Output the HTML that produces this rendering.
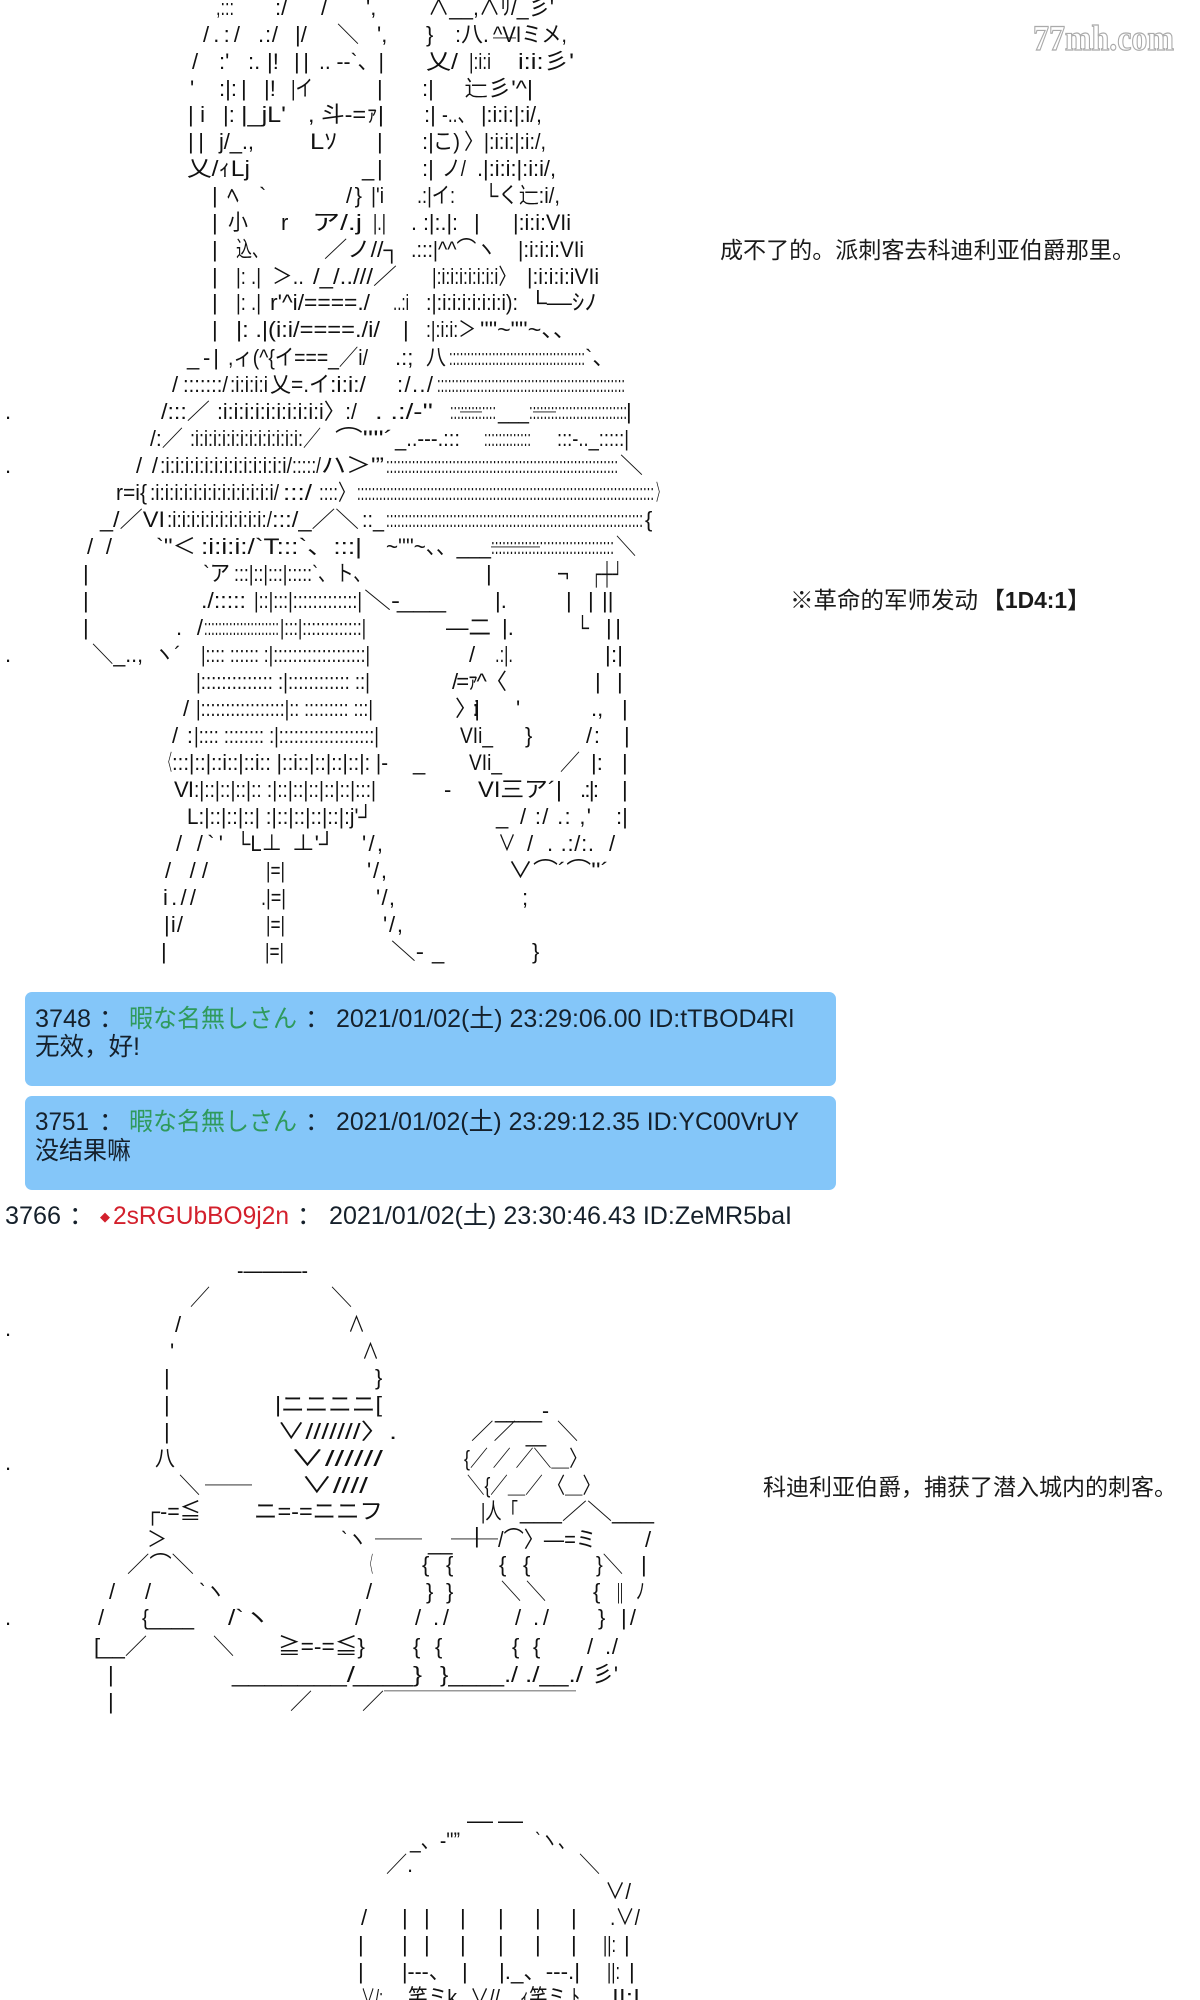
<!DOCTYPE html>
<html lang="zh"><head><meta charset="utf-8"><title>AA</title>
<style>
html,body{margin:0;padding:0;background:#fff;width:1200px;height:2000px;overflow:hidden}
svg{display:block}
text{font-family:"Liberation Sans","Noto Sans CJK JP",sans-serif;font-size:22px;fill:#111;white-space:pre}
.z{font-family:"Liberation Sans","Noto Sans CJK SC",sans-serif;font-size:25px;fill:#15202b}
.g{fill:#2f9a5c}.r{fill:#d3202c}
.t{font-family:"Liberation Sans","Noto Sans CJK SC",sans-serif;font-size:23px;fill:#1a1a1a}
.b{font-weight:bold}
.w{font-family:"Liberation Serif",serif;font-weight:bold;font-size:36px;fill:#fff;stroke:#aaa;stroke-width:1.2}
</style></head><body>
<svg xmlns="http://www.w3.org/2000/svg" width="1200" height="2000" viewBox="0 0 1200 2000">
<rect width="1200" height="2000" fill="#fff"/>
<text class="w" x="1033" y="50" textLength="141" lengthAdjust="spacingAndGlyphs">77mh.com</text>

<g transform="translate(0,15)"><text x="216" textLength="18" lengthAdjust="spacingAndGlyphs">,:::</text><text x="275">:/</text><text x="321">/</text><text x="366">',</text><text x="428" textLength="126" lengthAdjust="spacingAndGlyphs">∧__,∧ﾘ/_彡'</text></g>
<g transform="translate(0,42)"><text x="203" textLength="37">/.:/</text><text x="258" textLength="20">.:/</text><text x="295">|/</text><text x="337">＼</text><text x="377">',</text><text x="426">}</text><text x="455" textLength="34" lengthAdjust="spacingAndGlyphs">:八.</text><text x="493" textLength="74" lengthAdjust="spacingAndGlyphs">^VIミメ,</text></g>
<g transform="translate(0,69)"><text x="192">/</text><text x="219">:'</text><text x="248">:.</text><text x="267">|!</text><text x="294" textLength="15">||</text><text x="319" textLength="65" lengthAdjust="spacingAndGlyphs">.. --`、|</text><text x="426" textLength="32" lengthAdjust="spacingAndGlyphs">乂/</text><text x="469" textLength="22" lengthAdjust="spacingAndGlyphs">|:i:i</text><text x="493" y="-12" textLength="23" lengthAdjust="spacingAndGlyphs">￣</text><text x="518" textLength="56" lengthAdjust="spacingAndGlyphs">i:i:彡'</text></g>
<g transform="translate(0,96)"><text x="190">'</text><text x="219">:|:</text><text x="241">|</text><text x="264">|!</text><text x="291" textLength="22" lengthAdjust="spacingAndGlyphs">|イ</text><text x="377">|</text><text x="422">:|</text><text x="464" textLength="69" lengthAdjust="spacingAndGlyphs">辷彡'^|</text></g>
<g transform="translate(0,122)"><text x="188" textLength="17">|i</text><text x="223">|:</text><text x="241" textLength="45" lengthAdjust="spacingAndGlyphs">|_jL'</text><text x="308" textLength="76" lengthAdjust="spacingAndGlyphs">, 斗-=ｧ|</text><text x="424">:|</text><text x="442" textLength="33" lengthAdjust="spacingAndGlyphs">-..、</text><text x="481" textLength="61" lengthAdjust="spacingAndGlyphs">|:i:i:|:i/,</text></g>
<g transform="translate(0,149)"><text x="188" textLength="16">||</text><text x="219" textLength="35">j/_.,</text><text x="310" textLength="27" lengthAdjust="spacingAndGlyphs">Lｿ</text><text x="377">|</text><text x="422">:|</text><text x="433" textLength="27" lengthAdjust="spacingAndGlyphs">こ)</text><text x="464" textLength="82" lengthAdjust="spacingAndGlyphs">〉|:i:i:|:i:/,</text></g>
<g transform="translate(0,176)"><text x="187" textLength="63" lengthAdjust="spacingAndGlyphs">乂/ｨLj</text><text x="362">_</text><text x="377">|</text><text x="422">:|</text><text x="442" textLength="24" lengthAdjust="spacingAndGlyphs">ノ/</text><text x="477" textLength="79" lengthAdjust="spacingAndGlyphs">.|:i:i:|:i:i/,</text></g>
<g transform="translate(0,203)"><text x="212">|</text><text x="227" textLength="12" lengthAdjust="spacingAndGlyphs">ﾍ</text><text x="259">`</text><text x="346" textLength="16">/}</text><text x="371" textLength="13" lengthAdjust="spacingAndGlyphs">|'i</text><text x="417" textLength="38" lengthAdjust="spacingAndGlyphs">.:|イ:</text><text x="484" textLength="76" lengthAdjust="spacingAndGlyphs">└く辷:i/,</text></g>
<g transform="translate(0,230)"><text x="212">|</text><text x="228" textLength="20" lengthAdjust="spacingAndGlyphs">小</text><text x="281">r</text><text x="312" textLength="50" lengthAdjust="spacingAndGlyphs">ア/.j</text><text x="373" textLength="13" lengthAdjust="spacingAndGlyphs">|.|</text><text x="411" textLength="47" lengthAdjust="spacingAndGlyphs">. :|:.|:</text><text x="474">|</text><text x="513" textLength="58" lengthAdjust="spacingAndGlyphs">|:i:i:VIi</text></g>
<g transform="translate(0,257)"><text x="212">|</text><text x="236" textLength="32" lengthAdjust="spacingAndGlyphs">込、</text><text x="324" textLength="76" lengthAdjust="spacingAndGlyphs">／ノ//┐</text><text x="411" textLength="85" lengthAdjust="spacingAndGlyphs">.:::|^^⌒ヽ</text><text x="518" textLength="66" lengthAdjust="spacingAndGlyphs">|:i:i:i:VIi</text></g>
<g transform="translate(0,284)"><text x="212">|</text><text x="236" textLength="25" lengthAdjust="spacingAndGlyphs">|: .|</text><text x="272" textLength="32" lengthAdjust="spacingAndGlyphs">＞..</text><text x="313" textLength="84" lengthAdjust="spacingAndGlyphs">/_/..///／</text><text x="432" textLength="84" lengthAdjust="spacingAndGlyphs">|:i:i:i:i:i:i:i〉</text><text x="527" textLength="72" lengthAdjust="spacingAndGlyphs">|:i:i:i:iVIi</text></g>
<g transform="translate(0,310)"><text x="212">|</text><text x="236" textLength="25" lengthAdjust="spacingAndGlyphs">|: .|</text><text x="270" textLength="100" lengthAdjust="spacingAndGlyphs">r'^i/====./</text><text x="393" textLength="16" lengthAdjust="spacingAndGlyphs">..:i</text><text x="426" textLength="92" lengthAdjust="spacingAndGlyphs">:|:i:i:i:i:i:i:i):</text><text x="529" textLength="68" lengthAdjust="spacingAndGlyphs">└—ｼﾉ</text></g>
<g transform="translate(0,337)"><text x="212">|</text><text x="236" textLength="144" lengthAdjust="spacingAndGlyphs">|: .|(i:i/====./i/</text><text x="403">|</text><text x="426" textLength="50" lengthAdjust="spacingAndGlyphs">:|:i:i:＞</text><text x="480" textLength="96" lengthAdjust="spacingAndGlyphs">''"~"''~、、</text></g>
<g transform="translate(0,365)"><text x="187">_</text><text x="203" textLength="16">-|</text><text x="228" textLength="140" lengthAdjust="spacingAndGlyphs">,ィ(^{イ===_／i/</text><text x="395">.:;</text><text x="426" textLength="20" lengthAdjust="spacingAndGlyphs">八</text><text x="449" textLength="136" lengthAdjust="spacingAndGlyphs">::::::::::::::::::::::::::::::::::::::</text><text x="585">`、</text></g>
<g transform="translate(0,392)"><text x="172">/</text><text x="183" textLength="45" lengthAdjust="spacingAndGlyphs">:::::::/</text><text x="230" textLength="38" lengthAdjust="spacingAndGlyphs">:i:i:i:i</text><text x="270" textLength="60" lengthAdjust="spacingAndGlyphs">乂=.イ</text><text x="330" textLength="36" lengthAdjust="spacingAndGlyphs">:i:i:/</text><text x="397" textLength="36">:/../</text><text x="437" textLength="188" lengthAdjust="spacingAndGlyphs">::::::::::::::::::::::::::::::::::::::::::::::::::::</text></g>
<g transform="translate(0,419)"><text x="5">.</text><text x="161" textLength="49" lengthAdjust="spacingAndGlyphs">/:::／</text><text x="217" textLength="140" lengthAdjust="spacingAndGlyphs">:i:i:i:i:i:i:i:i:i:i〉:/</text><text x="375" textLength="58" lengthAdjust="spacingAndGlyphs">. .:/‐''</text><text x="450" textLength="46" lengthAdjust="spacingAndGlyphs">:::::::::::::</text><text x="498" textLength="31" lengthAdjust="spacingAndGlyphs">___</text><text x="529" textLength="98" lengthAdjust="spacingAndGlyphs">:::::::::::::::::::::::::::</text><text x="626">|</text></g>
<g transform="translate(0,446)"><text x="150" textLength="33" lengthAdjust="spacingAndGlyphs">/:／</text><text x="190" textLength="131" lengthAdjust="spacingAndGlyphs">:i:i:i:i:i:i:i:i:i:i:i:i:／</text><text x="335" textLength="58" lengthAdjust="spacingAndGlyphs">⌒''''´</text><text x="395" textLength="65" lengthAdjust="spacingAndGlyphs">_..-‐-.:::</text><text x="460" y="-15" textLength="22" lengthAdjust="spacingAndGlyphs">￣</text><text x="484" textLength="47" lengthAdjust="spacingAndGlyphs">:::::::::::::</text><text x="533" y="-15" textLength="23" lengthAdjust="spacingAndGlyphs">￣</text><text x="557" textLength="72" lengthAdjust="spacingAndGlyphs">:::‐.._:::::|</text></g>
<g transform="translate(0,473)"><text x="5">.</text><text x="136" textLength="22">//</text><text x="160" textLength="132" lengthAdjust="spacingAndGlyphs">:i:i:i:i:i:i:i:i:i:i:i:i:i/</text><text x="292" textLength="29" lengthAdjust="spacingAndGlyphs">:::::/</text><text x="321" textLength="63" lengthAdjust="spacingAndGlyphs">ハ＞'”</text><text x="386" textLength="232" lengthAdjust="spacingAndGlyphs">:::::::::::::::::::::::::::::::::::::::::::::::::::::::::::::::</text><text x="620" textLength="23" lengthAdjust="spacingAndGlyphs">＼</text></g>
<g transform="translate(0,500)"><text x="116" textLength="31" lengthAdjust="spacingAndGlyphs">r=i{</text><text x="150" textLength="129" lengthAdjust="spacingAndGlyphs">:i:i:i:i:i:i:i:i:i:i:i:i:i/</text><text x="283" textLength="29" lengthAdjust="spacingAndGlyphs">:::/</text><text x="319" textLength="36" lengthAdjust="spacingAndGlyphs">::::〉</text><text x="357" textLength="297" lengthAdjust="spacingAndGlyphs">:::::::::::::::::::::::::::::::::::::::::::::::::::::::::::::::::::::::::::::::::</text><text x="656" textLength="9" lengthAdjust="spacingAndGlyphs">〉</text></g>
<g transform="translate(0,527)"><text x="100" textLength="65" lengthAdjust="spacingAndGlyphs">_/／VI</text><text x="167" textLength="105" lengthAdjust="spacingAndGlyphs">:i:i:i:i:i:i:i:i:i:i:/</text><text x="272" textLength="87" lengthAdjust="spacingAndGlyphs">:::/_／＼</text><text x="362" textLength="22" lengthAdjust="spacingAndGlyphs">::_</text><text x="386" textLength="257" lengthAdjust="spacingAndGlyphs">:::::::::::::::::::::::::::::::::::::::::::::::::::::::::::::::::::::</text><text x="645">{</text></g>
<g transform="translate(0,554)"><text x="87" textLength="25">/ /</text><text x="156" textLength="40" lengthAdjust="spacingAndGlyphs">`''＜</text><text x="201" textLength="161" lengthAdjust="spacingAndGlyphs">:i:i:i:/`T:::`、:::|</text><text x="386" textLength="105" lengthAdjust="spacingAndGlyphs">~''''~、、___</text><text x="491" textLength="123" lengthAdjust="spacingAndGlyphs">:::::::::::::::::::::::::::::::::</text><text x="616" textLength="20" lengthAdjust="spacingAndGlyphs">＼</text></g>
<g transform="translate(0,581)"><text x="83">|</text><text x="203" textLength="27" lengthAdjust="spacingAndGlyphs">`ア</text><text x="234" textLength="137" lengthAdjust="spacingAndGlyphs">:::|::|:::|:::::`、ト、</text><text x="486">|</text><text x="491" y="-15" textLength="49" lengthAdjust="spacingAndGlyphs">￣￣</text><text x="557" textLength="12" lengthAdjust="spacingAndGlyphs">¬</text><text x="591" textLength="32" lengthAdjust="spacingAndGlyphs">┌┼┘</text></g>
<g transform="translate(0,608)"><text x="83">|</text><text x="201" textLength="45" lengthAdjust="spacingAndGlyphs">./:::::</text><text x="254" textLength="108" lengthAdjust="spacingAndGlyphs">|::|:::|:::::::::::::|</text><text x="364" textLength="36" lengthAdjust="spacingAndGlyphs">＼‐</text><text x="397" textLength="49" lengthAdjust="spacingAndGlyphs">___</text><text x="495">|.</text><text x="566">|</text><text x="588">|</text><text x="602">||</text></g>
<g transform="translate(0,635)"><text x="83">|</text><text x="176" textLength="27">./</text><text x="204" textLength="75" lengthAdjust="spacingAndGlyphs">:::::::::::::::::::::</text><text x="280" textLength="86" lengthAdjust="spacingAndGlyphs">|:::|:::::::::::::|</text><text x="446" textLength="45" lengthAdjust="spacingAndGlyphs">—二</text><text x="502">|.</text><text x="576" textLength="13" lengthAdjust="spacingAndGlyphs">└</text><text x="606" textLength="15">||</text></g>
<g transform="translate(0,662)"><text x="5">.</text><text x="92" textLength="51" lengthAdjust="spacingAndGlyphs">＼_..,</text><text x="154" textLength="27" lengthAdjust="spacingAndGlyphs">ヽ´</text><text x="201" textLength="169" lengthAdjust="spacingAndGlyphs">|:::: :::::: :|:::::::::::::::::::|</text><text x="469">/</text><text x="495" textLength="18" lengthAdjust="spacingAndGlyphs">.:|.</text><text x="605" textLength="18">|:|</text></g>
<g transform="translate(0,689)"><text x="196" textLength="174" lengthAdjust="spacingAndGlyphs">|:::::::::::::: :|:::::::::::: ::|</text><text x="452" textLength="55">/=ｧ^〈</text><text x="595">|</text><text x="617">|</text></g>
<g transform="translate(0,716)"><text x="183">/</text><text x="196" textLength="177" lengthAdjust="spacingAndGlyphs">|:::::::::::::::::|:: ::::::::: :::|</text><text x="455" textLength="25">〉:i|</text><text x="516">'</text><text x="591">.,</text><text x="622">|</text></g>
<g transform="translate(0,743)"><text x="172" textLength="21">/:</text><text x="194" textLength="185" lengthAdjust="spacingAndGlyphs">|:::: :::::::: :|:::::::::::::::::::|</text><text x="460" textLength="33" lengthAdjust="spacingAndGlyphs">VIi_</text><text x="525">}</text><text x="586" textLength="14">/:</text><text x="624">|</text></g>
<g transform="translate(0,770)"><text x="163" textLength="9" lengthAdjust="spacingAndGlyphs">〈</text><text x="172" textLength="216" lengthAdjust="spacingAndGlyphs">:::|::|::i::|::i:: |::i::|::|::|::|: |‐</text><text x="413">_</text><text x="469" textLength="33" lengthAdjust="spacingAndGlyphs">VIi_</text><text x="560" textLength="20" lengthAdjust="spacingAndGlyphs">／</text><text x="591">|:</text><text x="622">|</text></g>
<g transform="translate(0,797)"><text x="174" textLength="20">VI</text><text x="194" textLength="182" lengthAdjust="spacingAndGlyphs">:|::|::|::|:: :|::|::|::|::|::|:::|</text><text x="444">-</text><text x="478" textLength="84" lengthAdjust="spacingAndGlyphs">VI三ア´|</text><text x="580" textLength="19">.:|:</text><text x="622">|</text></g>
<g transform="translate(0,824)"><text x="187" textLength="186" lengthAdjust="spacingAndGlyphs">L:|::|::|::| :|::|::|::|::|:j'┘</text><text x="496">_</text><text x="520" textLength="71">/ :/ .: ,'</text><text x="616">:|</text></g>
<g transform="translate(0,851)"><text x="176" textLength="47">/ /`'</text><text x="236" textLength="46" lengthAdjust="spacingAndGlyphs">└L⊥</text><text x="292" textLength="43" lengthAdjust="spacingAndGlyphs">⊥'┘</text><text x="362" textLength="21">'/,</text><text x="498" textLength="18" lengthAdjust="spacingAndGlyphs">∨</text><text x="527">/</text><text x="547" textLength="47">. .:/:.</text><text x="609">/</text></g>
<g transform="translate(0,878)"><text x="165" textLength="43">/ //</text><text x="266" textLength="19" lengthAdjust="spacingAndGlyphs">|=|</text><text x="367" textLength="20">'/,</text><text x="508" textLength="101" lengthAdjust="spacingAndGlyphs">∨⌒´⌒''´</text></g>
<g transform="translate(0,905)"><text x="163" textLength="33">i.//</text><text x="261" textLength="25" lengthAdjust="spacingAndGlyphs">.|=|</text><text x="376" textLength="19">'/,</text><text x="522">;</text></g>
<g transform="translate(0,932)"><text x="164" textLength="19">|i/</text><text x="266" textLength="19" lengthAdjust="spacingAndGlyphs">|=|</text><text x="383" textLength="20">'/,</text></g>
<g transform="translate(0,959)"><text x="161">|</text><text x="265" textLength="19" lengthAdjust="spacingAndGlyphs">|=|</text><text x="391" textLength="33" lengthAdjust="spacingAndGlyphs">＼‐</text><text x="432">_</text><text x="532">}</text></g>

<rect x="25" y="992" width="811" height="94" rx="7" fill="#84c6f9"/>
<rect x="25" y="1096" width="811" height="94" rx="7" fill="#84c6f9"/>
<text class="z" x="35" y="1027" textLength="56" lengthAdjust="spacingAndGlyphs">3748</text><text class="z" x="99" y="1027">：</text><text class="z g" x="129" y="1027" textLength="168" lengthAdjust="spacingAndGlyphs">暇な名無しさん</text><text class="z" x="305" y="1027">：</text><text class="z" x="336" y="1027" textLength="458" lengthAdjust="spacingAndGlyphs">2021/01/02(土) 23:29:06.00 ID:tTBOD4Rl</text>
<text class="z" x="35" y="1055" textLength="105" lengthAdjust="spacingAndGlyphs">无效，好!</text>
<text class="z" x="35" y="1130" textLength="54" lengthAdjust="spacingAndGlyphs">3751</text><text class="z" x="99" y="1130">：</text><text class="z g" x="129" y="1130" textLength="168" lengthAdjust="spacingAndGlyphs">暇な名無しさん</text><text class="z" x="305" y="1130">：</text><text class="z" x="336" y="1130" textLength="463" lengthAdjust="spacingAndGlyphs">2021/01/02(土) 23:29:12.35 ID:YC00VrUY</text>
<text class="z" x="35" y="1159" textLength="96" lengthAdjust="spacingAndGlyphs">没结果嘛</text>
<text class="z" x="5" y="1224" textLength="56" lengthAdjust="spacingAndGlyphs">3766</text><text class="z" x="69" y="1224">：</text><text class="r" x="100" y="1221" style="font-size:13px;font-family:'Liberation Sans','DejaVu Sans',sans-serif">◆</text><text class="z r" x="113" y="1224" textLength="176" lengthAdjust="spacingAndGlyphs">2sRGUbBO9j2n</text><text class="z" x="297" y="1224">：</text><text class="z" x="329" y="1224" textLength="463" lengthAdjust="spacingAndGlyphs">2021/01/02(土) 23:30:46.43 ID:ZeMR5baI</text>

<text class="t" x="720" y="258" textLength="415" lengthAdjust="spacingAndGlyphs">成不了的。派刺客去科迪利亚伯爵那里。</text>
<text class="t" x="790" y="608" textLength="188" lengthAdjust="spacingAndGlyphs">※革命的军师发动</text><text class="t b" x="982" y="608" textLength="108" lengthAdjust="spacingAndGlyphs">【1D4:1】</text>
<text class="t" x="763" y="1495" textLength="414" lengthAdjust="spacingAndGlyphs">科迪利亚伯爵，捕获了潜入城内的刺客。</text>

<g transform="translate(0,1278)"><text x="237" textLength="71" lengthAdjust="spacingAndGlyphs">‐———‐</text></g>
<g transform="translate(0,1305)"><text x="190" textLength="20" lengthAdjust="spacingAndGlyphs">／</text><text x="331" textLength="21" lengthAdjust="spacingAndGlyphs">＼</text></g>
<g transform="translate(0,1332)"><text x="5" y="4">.</text><text x="175">/</text><text x="348" textLength="17" lengthAdjust="spacingAndGlyphs">∧</text></g>
<g transform="translate(0,1359)"><text x="170">'</text><text x="362" textLength="17" lengthAdjust="spacingAndGlyphs">∧</text></g>
<g transform="translate(0,1385)"><text x="164">|</text><text x="375">}</text></g>
<g transform="translate(0,1412)"><text x="164">|</text><text x="275" textLength="107" lengthAdjust="spacingAndGlyphs">|ニニニニ[</text><text x="495" y="6" textLength="54" lengthAdjust="spacingAndGlyphs">____-</text></g>
<g transform="translate(0,1439)"><text x="164">|</text><text x="277" textLength="120" lengthAdjust="spacingAndGlyphs">∨///////〉.</text><text x="471" textLength="45" lengthAdjust="spacingAndGlyphs">／／</text><text x="516" y="3" textLength="40" lengthAdjust="spacingAndGlyphs"> _ </text><text x="557" textLength="21" lengthAdjust="spacingAndGlyphs">＼</text></g>
<g transform="translate(0,1466)"><text x="5" y="4">.</text><text x="155" textLength="20" lengthAdjust="spacingAndGlyphs">八</text><text x="290" textLength="93" lengthAdjust="spacingAndGlyphs">∨//////</text><text x="464" textLength="123" lengthAdjust="spacingAndGlyphs">{／ ／ ／＼＿〉</text></g>
<g transform="translate(0,1493)"><text x="179" textLength="21" lengthAdjust="spacingAndGlyphs">＼</text><text x="301" textLength="67" lengthAdjust="spacingAndGlyphs">∨////</text><text x="467" textLength="133" lengthAdjust="spacingAndGlyphs">＼{／＿／ 〈＿〉</text></g>
<g transform="translate(0,1519)"><text x="145" textLength="56" lengthAdjust="spacingAndGlyphs">┌-=≦</text><text x="205" y="-15" textLength="47" lengthAdjust="spacingAndGlyphs">￣￣</text><text x="254" textLength="129" lengthAdjust="spacingAndGlyphs">ニ=-=ニニフ</text><text x="481" textLength="37" lengthAdjust="spacingAndGlyphs">|人「</text><text x="520" textLength="134" lengthAdjust="spacingAndGlyphs">___／＼___</text></g>
<g transform="translate(0,1547)"><text x="147" textLength="20" lengthAdjust="spacingAndGlyphs">＞</text><text x="341" textLength="26" lengthAdjust="spacingAndGlyphs">`ヽ</text><text x="474" y="-4">|</text><text x="498" textLength="98" lengthAdjust="spacingAndGlyphs">/⌒〉—=ミ</text><text x="645">/</text></g>
<g transform="translate(0,1572)"><text x="127" textLength="67" lengthAdjust="spacingAndGlyphs">／⌒＼</text><text x="366" textLength="7" lengthAdjust="spacingAndGlyphs">〈</text><text x="375" y="-14" textLength="47" lengthAdjust="spacingAndGlyphs">￣￣</text><text x="428" y="-22">__</text><text x="422">{</text><text x="446">{</text><text x="451" y="-14" textLength="47" lengthAdjust="spacingAndGlyphs">￣￣</text><text x="499">{</text><text x="523">{</text><text x="596" textLength="27" lengthAdjust="spacingAndGlyphs">}＼</text><text x="641">|</text></g>
<g transform="translate(0,1599)"><text x="109">/</text><text x="145">/</text><text x="199" textLength="26" lengthAdjust="spacingAndGlyphs">`ヽ</text><text x="366">/</text><text x="426">}</text><text x="446">}</text><text x="501" textLength="20" lengthAdjust="spacingAndGlyphs">＼</text><text x="526" textLength="20" lengthAdjust="spacingAndGlyphs">＼</text><text x="593">{</text><text x="617" textLength="6" lengthAdjust="spacingAndGlyphs">||</text><text x="636" textLength="9" lengthAdjust="spacingAndGlyphs">ﾉ</text></g>
<g transform="translate(0,1625)"><text x="5">.</text><text x="98">/</text><text x="142" textLength="52" lengthAdjust="spacingAndGlyphs">{____</text><text x="228" textLength="42" lengthAdjust="spacingAndGlyphs">/`ヽ</text><text x="355">/</text><text x="415">/</text><text x="433" textLength="16">./</text><text x="515">/</text><text x="533" textLength="16">./</text><text x="598">}</text><text x="621" textLength="15">|/</text></g>
<g transform="translate(0,1654)"><text x="94" textLength="53" lengthAdjust="spacingAndGlyphs">[__／</text><text x="213" textLength="21" lengthAdjust="spacingAndGlyphs">＼</text><text x="278" textLength="87" lengthAdjust="spacingAndGlyphs">≧=-=≦}</text><text x="413">{</text><text x="435">{</text><text x="512">{</text><text x="533">{</text><text x="587">/</text><text x="605" textLength="13">./</text></g>
<g transform="translate(0,1682)"><text x="108">|</text><text x="232" textLength="123" lengthAdjust="spacingAndGlyphs">_______/</text><text x="353" textLength="69" lengthAdjust="spacingAndGlyphs">____}</text><text x="440" textLength="78" lengthAdjust="spacingAndGlyphs">}____./</text><text x="525" textLength="58" lengthAdjust="spacingAndGlyphs">./__./</text><text x="592" textLength="26" lengthAdjust="spacingAndGlyphs">彡'</text></g>
<rect x="384" y="1690" width="192" height="1.5" fill="#999"/>
<g transform="translate(0,1709)"><text x="108">|</text><text x="290" textLength="22" lengthAdjust="spacingAndGlyphs">／</text><text x="362" textLength="22" lengthAdjust="spacingAndGlyphs">／</text></g>

<text x="467" y="1828" textLength="26" lengthAdjust="spacingAndGlyphs">—</text><text x="498" y="1828" textLength="25" lengthAdjust="spacingAndGlyphs">—</text>
<text x="410" y="1848" textLength="50" lengthAdjust="spacingAndGlyphs">_、-''”</text><text x="535" y="1848" textLength="40" lengthAdjust="spacingAndGlyphs">`ヽ、</text>
<g transform="translate(0,1872)"><text x="386" textLength="27" lengthAdjust="spacingAndGlyphs">／.</text><text x="579" textLength="21" lengthAdjust="spacingAndGlyphs">＼</text></g>
<g transform="translate(0,1899)"><text x="605" textLength="26" lengthAdjust="spacingAndGlyphs">∨/</text></g>
<g transform="translate(0,1925)"><text x="361">/</text><text x="402">|</text><text x="424">|</text><text x="460">|</text><text x="498">|</text><text x="535">|</text><text x="571">|</text><text x="610" textLength="30" lengthAdjust="spacingAndGlyphs">.∨/</text></g>
<g transform="translate(0,1952)"><text x="358">|</text><text x="402">|</text><text x="424">|</text><text x="460">|</text><text x="498">|</text><text x="535">|</text><text x="571">|</text><text x="603" textLength="13" lengthAdjust="spacingAndGlyphs">||:</text><text x="624">|</text></g>
<g transform="translate(0,1979)"><text x="358">|</text><text x="402" textLength="48" lengthAdjust="spacingAndGlyphs">|--‐、</text><text x="462">|</text><text x="499" textLength="81" lengthAdjust="spacingAndGlyphs">|._、‐-‐.|</text><text x="607" textLength="13" lengthAdjust="spacingAndGlyphs">||:</text><text x="629">|</text></g>
<g transform="translate(0,2005)"><text x="361" textLength="22" lengthAdjust="spacingAndGlyphs">∨/:</text><text x="408" textLength="49" lengthAdjust="spacingAndGlyphs">笑ミk</text><text x="470" textLength="30" lengthAdjust="spacingAndGlyphs">∨//</text><text x="520" textLength="60" lengthAdjust="spacingAndGlyphs">ｨ笑ミ ﾄ</text><text x="612" textLength="28" lengthAdjust="spacingAndGlyphs">||:|</text></g>
</svg>
</body></html>
